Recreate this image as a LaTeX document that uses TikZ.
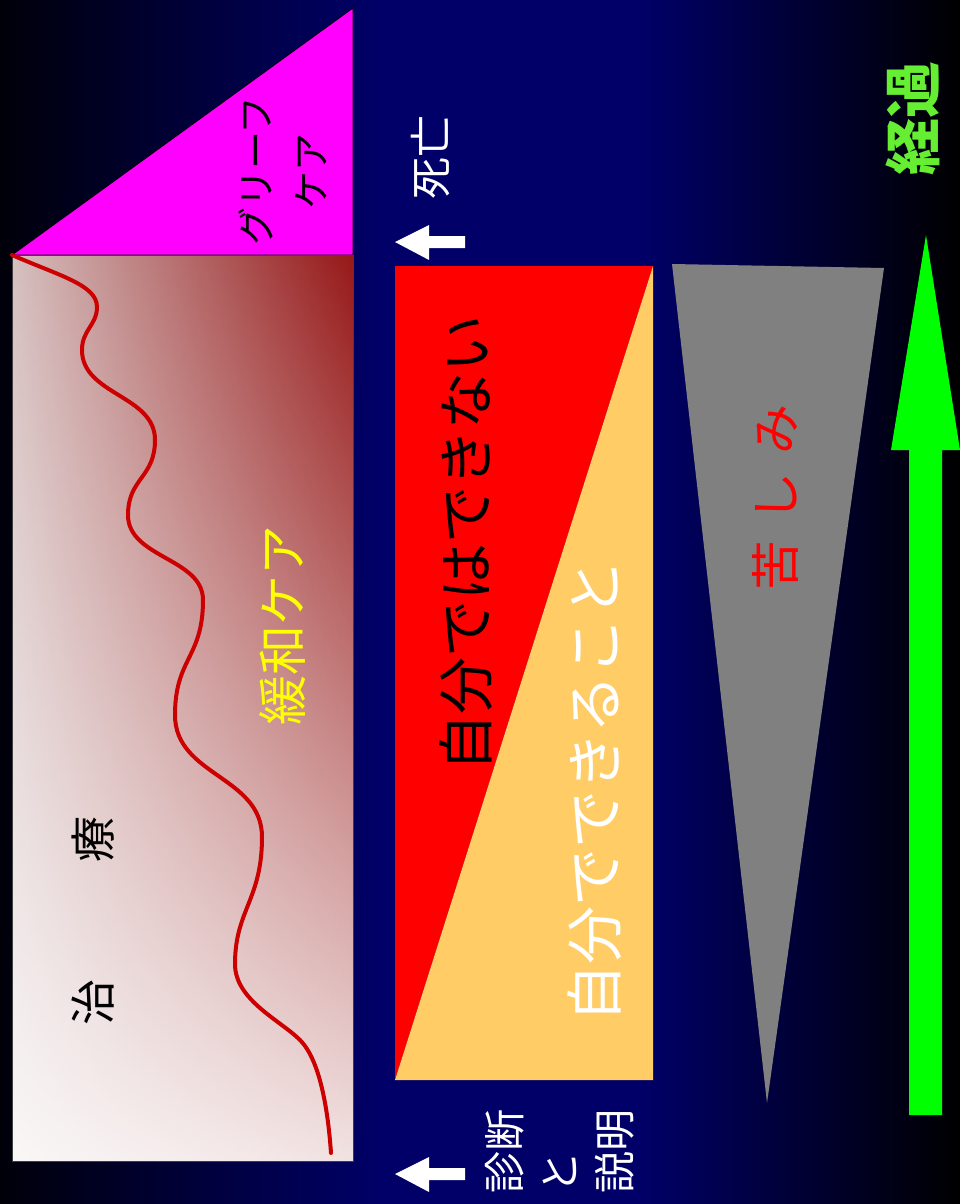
\documentclass[tikz,border=0pt]{standalone}
\usepackage{fontspec}
\newfontfamily\jp{Noto Sans CJK JP}
\usetikzlibrary{fadings}
\definecolor{navybg}{RGB}{0,0,104}
\definecolor{darkbg}{RGB}{0,0,10}
\definecolor{mag}{RGB}{255,0,255}
\definecolor{orangefill}{RGB}{255,204,102}
\definecolor{greyfill}{RGB}{128,128,128}
\definecolor{keika}{RGB}{102,238,51}
\definecolor{arrowgreen}{RGB}{0,255,0}
\definecolor{curvered}{RGB}{204,0,0}
\definecolor{topl}{RGB}{214,192,192}
\definecolor{topr}{RGB}{150,24,24}
\definecolor{yel}{RGB}{255,255,0}
\tikzfading[name=fadeup, top color=transparent!100, bottom color=transparent!12]
\tikzset{
  vtext/.style={rotate=90, inner sep=0pt, font=\jp},
  rectline/.style={draw=black!75, line width=0.8pt},
}
\begin{document}
\begin{tikzpicture}[x=1pt,y=-1pt]
\useasboundingbox (0,0) rectangle (960,1204);
% background
\fill[left color=darkbg, right color=navybg] (0,0) rectangle (381,1204);
\fill[navybg] (380,0) rectangle (641,1204);
\fill[left color=navybg, right color=black] (640,0) rectangle (960,1204);

% grief triangle
\draw[fill=mag, line width=0.8pt] (12,255) -- (353,8) -- (353,255) -- cycle;
\node[vtext, font=\jp\fontsize{38}{55}\selectfont, align=center] (grief) at (283,171) {グリーフ\\ケア};

% treatment rectangle
\fill[left color=topl, right color=topr] (12,255) rectangle (353,1161);
\fill[white, path fading=fadeup] (12,255) rectangle (353,1161);
\draw[rectline] (12,255) rectangle (353,1161);
\draw[curvered, line width=4pt, line cap=round]
 (12,255) .. controls (60,276) and (97,285) .. (97,307)
 .. controls (97,325) and (82,330) .. (82,350)
 .. controls (82,395) and (155,395) .. (155,440)
 .. controls (155,478) and (128,478) .. (128,515)
 .. controls (128,558) and (203,558) .. (203,600)
 .. controls (203,658) and (175,658) .. (175,715)
 .. controls (175,776) and (262,776) .. (262,837)
 .. controls (262,900) and (235,910) .. (235,964)
 .. controls (235,1000) and (280,1020) .. (300,1040)
 .. controls (320,1060) and (328,1110) .. (331,1153);
\node[vtext, font=\jp\fontsize{46}{46}\selectfont] (chi) at (93,1002) {治};
\node[vtext, font=\jp\fontsize{46}{46}\selectfont] (ryo) at (93,839) {療};
\node[vtext, font=\jp\fontsize{50}{50}\selectfont, text=yel] (kanwa) at (283,625) {緩和ケア};

% death arrow and label
\fill[white] (395,242) -- (429,225) -- (429,236) -- (465,236) -- (465,248) -- (429,248) -- (429,260) -- cycle;
\node[vtext, font=\jp\fontsize{42}{42}\selectfont, text=white] (shibo) at (431,157) {死亡};

% diagnosis arrow and label
\fill[white] (395,1174) -- (429,1157) -- (429,1168) -- (465,1168) -- (465,1180) -- (429,1180) -- (429,1192) -- cycle;
\node[vtext, anchor=west, align=left, font=\jp\fontsize{42}{55}\selectfont, text=white] (shindan) at (560,1194) {診断\\と\\説明};

% can / cannot
\fill[red] (395,266) -- (653,266) -- (395,1080) -- cycle;
\fill[orangefill] (653,266) -- (653,1080) -- (395,1080) -- cycle;
\node[vtext, font=\jp\fontsize{57}{57}\selectfont, text=black] (dekinai) at (466,543) {自分ではできない};
\node[vtext, font=\jp\fontsize{58}{58}\selectfont, text=white] (dekiru) at (595,791) {自分でできること};

% suffering
\fill[greyfill] (672,264) -- (884,268) -- (767,1103) -- cycle;
\node[vtext, font=\jp\fontsize{50}{50}\selectfont, text=red] (kurushimi) at (775,497) {苦\hspace{18pt}し\hspace{18pt}み};

% time arrow
\fill[arrowgreen] (926,235) -- (960,450) -- (942,450) -- (942,1115) -- (909,1115) -- (909,450) -- (891,450) -- cycle;
\node[vtext, font=\jp\bfseries\fontsize{57}{57}\selectfont, text=keika] (keika) at (913,118) {経過};
\end{tikzpicture}
\end{document}
